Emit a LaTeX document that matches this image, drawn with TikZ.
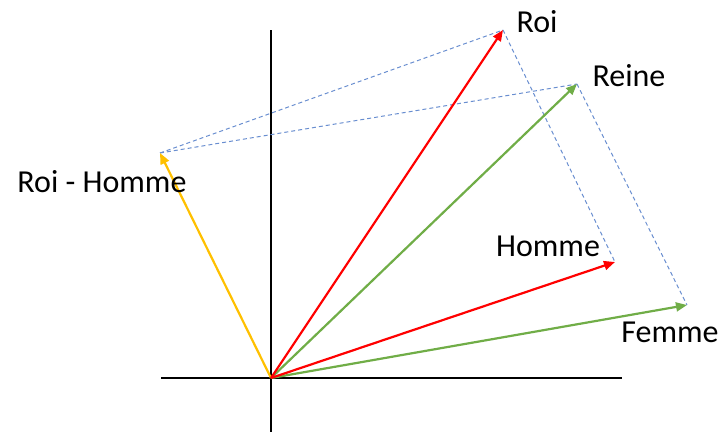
\documentclass[tikz,border=0pt]{standalone}
\usepackage{fontspec}
\setmainfont{Carlito}
\usepackage{xcolor}
\usetikzlibrary{arrows.meta,positioning}
\definecolor{rojo}{HTML}{FF0000}
\definecolor{verde}{HTML}{70AD47}
\definecolor{amarillo}{HTML}{FFC000}
\definecolor{azul}{HTML}{4472C4}
\tikzset{
  ejes/.style={line width=2.2pt,black},
  vec/.style={-{Triangle[length=11pt,width=9pt]},line width=2.2pt},
  guia/.style={dashed,azul!80,line width=1pt,dash pattern=on 4pt off 3pt},
  etiq/.style={font=\fontsize{32}{38}\selectfont,inner sep=0pt}
}
\begin{document}
\begin{tikzpicture}[x=1pt,y=-1pt]
\useasboundingbox (0,0) rectangle (724,434);
\coordinate (o) at (271,378);
\coordinate (ax1) at (161,378); \coordinate (ax2) at (622,378);
\coordinate (ay1) at (271,30); \coordinate (ay2) at (271,432);
\draw[ejes] (ax1)--(ax2); \draw[ejes] (ay1)--(ay2);
\coordinate (roi) at (503,30); \coordinate (reine) at (577,84);
\coordinate (homme) at (615,262); \coordinate (femme) at (687,305);
\coordinate (rh) at (160,153);
% guides
\draw[guia] (rh)--(roi); \draw[guia] (rh)--(reine);
\draw[guia] (roi)--(homme); \draw[guia] (reine)--(femme);
% vectors
\draw[vec,amarillo] (o)--(rh);
\draw[vec,verde] (o)--(femme); \draw[vec,verde] (o)--(reine);
\draw[vec,rojo] (o)--(homme); \draw[vec,rojo] (o)--(roi);
% labels
\node[etiq] (lroi) at (537,22){Roi};
\node[etiq] (lreine) at (629,76){Reine};
\node[etiq] (lhomme) at (548,246){Homme};
\node[etiq] (lfemme) at (670,332){Femme};
\node[etiq] (lrh) at (102,182){Roi - Homme};
\end{tikzpicture}
\end{document}
